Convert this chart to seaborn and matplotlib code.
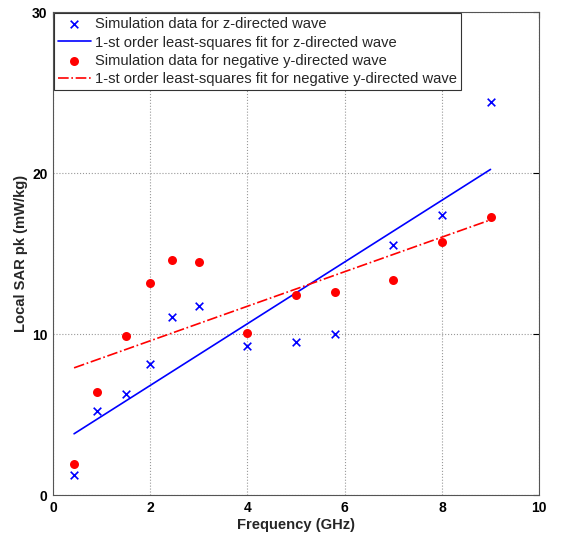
import numpy as np
import pandas as pd
import seaborn as sns
import matplotlib
matplotlib.use("Agg")
import matplotlib.pyplot as plt

freq = [0.433, 0.9, 1.5, 2.0, 2.45, 3.0, 4.0, 5.0, 5.8, 7.0, 8.0, 9.0]
sar_z = [1.26, 5.22, 6.32, 8.17, 11.08, 11.73, 9.25, 9.52, 10.04, 15.55, 17.41, 24.43]
sar_y = [1.98, 6.39, 9.92, 13.16, 14.59, 14.50, 10.10, 12.43, 12.64, 13.36, 15.73, 17.27]

lbl_z = "Simulation data for z-directed wave"
lbl_zfit = "1-st order least-squares fit for z-directed wave"
lbl_y = "Simulation data for negative y-directed wave"
lbl_yfit = "1-st order least-squares fit for negative y-directed wave"

sns.set_theme(style="white")
plt.rcParams["font.family"] = ["Liberation Sans", "DejaVu Sans"]

df = pd.DataFrame({"f": freq, "z": sar_z, "y": sar_y})
pz = np.polyfit(df["f"], df["z"], 1)
py = np.polyfit(df["f"], df["y"], 1)
fit = pd.DataFrame({"f": [freq[0], freq[-1]]})
fit["z"] = np.polyval(pz, fit["f"])
fit["y"] = np.polyval(py, fit["f"])

fig = plt.figure(figsize=(5.61, 5.36), dpi=100)
ax = fig.add_axes([0.0945, 0.0756, 0.8665, 0.902])

sns.scatterplot(data=df, x="f", y="z", ax=ax, marker="x", color="#0000ff",
                s=30, linewidth=1.2, label=lbl_z, zorder=3)
sns.lineplot(data=fit, x="f", y="z", ax=ax, color="#0000ff", linewidth=1.2,
             label=lbl_zfit, zorder=2)
sns.scatterplot(data=df, x="f", y="y", ax=ax, marker="o", color="#ff0000",
                s=42, edgecolor="#ff0000", linewidth=0, label=lbl_y, zorder=3)
sns.lineplot(data=fit, x="f", y="y", ax=ax, color="#ff0000", linewidth=1.2,
             linestyle="-.", label=lbl_yfit, zorder=2)

ax.set_xlim(0, 10)
ax.set_ylim(0, 30)
ax.set_xticks([0, 2, 4, 6, 8, 10])
ax.set_yticks([0, 10, 20, 30])
ax.grid(True, linestyle=":", color="#999999", linewidth=0.8)
ax.tick_params(direction="in", top=True, right=True, length=4, width=0.8,
               labelsize=10, colors="#000000", pad=4)
for lab in ax.get_xticklabels() + ax.get_yticklabels():
    lab.set_fontweight("bold")
for s in ax.spines.values():
    s.set_color("#555555")
    s.set_linewidth(0.8)
ax.set_xlabel("Frequency (GHz)", fontsize=10.6, fontweight="bold", labelpad=2)
ax.set_ylabel("Local SAR pk (mW/kg)", fontsize=10.6, fontweight="bold", labelpad=3)

leg = ax.legend(loc="upper left", fontsize=10.6, frameon=True, fancybox=False,
                framealpha=1, edgecolor="#333333", borderpad=0.25,
                labelspacing=0.3, handlelength=2.2, handletextpad=0.3,
                borderaxespad=0.1)
leg.get_frame().set_linewidth(0.8)

fig.savefig("out.png", dpi=100)
